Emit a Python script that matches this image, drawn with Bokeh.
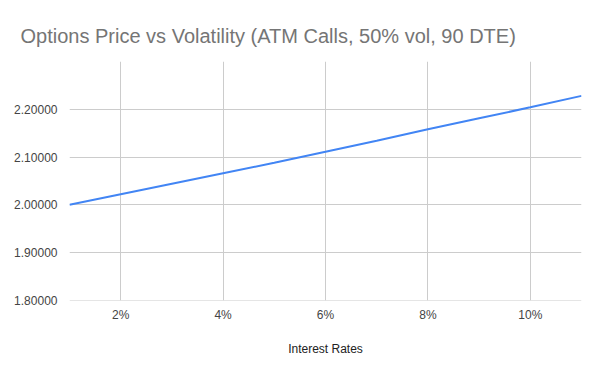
from bokeh.plotting import figure
from bokeh.models import Range1d, FixedTicker, PrintfTickFormatter
from bokeh.embed import file_html
from bokeh.resources import INLINE

# Data (interest rate in %, option price)
rates = [1, 2, 3, 4, 5, 6, 7, 8, 9, 10, 11]
prices = [2.000, 2.022, 2.044, 2.066, 2.088, 2.111, 2.134, 2.158, 2.181, 2.204, 2.228]
x_ticks = [2, 4, 6, 8, 10]
y_ticks = [1.8, 1.9, 2.0, 2.1, 2.2]
title_text = "Options Price vs Volatility (ATM Calls, 50% vol, 90 DTE)"
x_title = "Interest Rates"

FONT = "Liberation Sans"

p = figure(width=600, height=371, output_backend="svg", toolbar_location=None,
           x_range=Range1d(1, 11), y_range=Range1d(1.7995, 2.3),
           min_border_left=69, min_border_right=19, min_border_top=61, min_border_bottom=71,
           title=title_text)
p.outline_line_color = None
p.background_fill_color = "white"
p.border_fill_color = "white"

p.title.text_font = FONT
p.title.text_font_size = "20px"
p.title.text_font_style = "normal"
p.title.text_color = "#757575"
p.title.align = "left"
p.title.offset = -49
p.title.standoff = 30

p.line(rates, prices, line_color="#4285F4", line_width=2)

# axes
p.xaxis.ticker = FixedTicker(ticks=x_ticks)
p.yaxis.ticker = FixedTicker(ticks=y_ticks)
p.xaxis.formatter = PrintfTickFormatter(format="%d%%")
p.yaxis.formatter = PrintfTickFormatter(format="%.5f")
for ax in (p.xaxis[0], p.yaxis[0]):
    ax.axis_line_color = None
    ax.major_tick_line_color = None
    ax.minor_tick_line_color = None
    ax.major_label_text_font = FONT
    ax.major_label_text_font_size = "12px"
    ax.major_label_text_color = "#444444"
p.yaxis.major_label_standoff = 6
p.xaxis.major_label_standoff = 1
p.xaxis.axis_label = x_title
p.xaxis.axis_label_text_font = FONT
p.xaxis.axis_label_text_font_size = "12px"
p.xaxis.axis_label_text_font_style = "normal"
p.xaxis.axis_label_text_color = "#222222"
p.xaxis.axis_label_standoff = 17

p.xgrid.grid_line_color = "#cccccc"
p.ygrid.grid_line_color = "#cccccc"
p.xgrid.ticker = FixedTicker(ticks=x_ticks)
p.ygrid.ticker = FixedTicker(ticks=y_ticks)

open("out.html", "w").write(file_html(p, INLINE))
